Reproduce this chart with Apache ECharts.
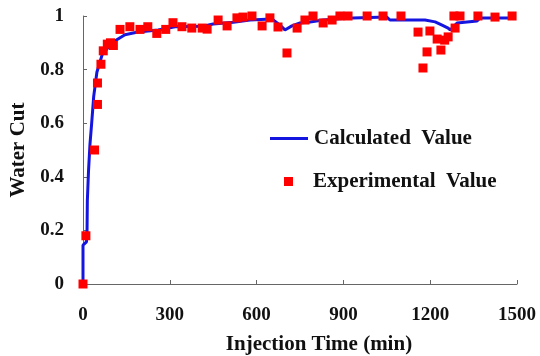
<!DOCTYPE html>
<html>
<head>
<meta charset="utf-8">
<script src="https://cdn.jsdelivr.net/npm/echarts@6/dist/echarts.min.js"></script>
<style>
  html, body { margin: 0; padding: 0; background: #fff; }
  #main { width: 540px; height: 356px; }
</style>
</head>
<body>
<div id="main"></div>
<script>
// calculated water cut curve (time in min, fraction)
var calcTime = [0, 0, 12, 14, 15, 19, 24, 30, 37, 48, 66, 100, 145, 190, 260, 318, 415, 450, 520, 577, 653, 681, 698, 722, 750, 785, 830, 933, 1050, 1061, 1182, 1217, 1241, 1262, 1269, 1293, 1362, 1372, 1483];
var calcValue = [0, 0.145, 0.157, 0.2, 0.31, 0.42, 0.52, 0.6, 0.7, 0.79, 0.855, 0.9, 0.93, 0.94, 0.948, 0.96, 0.962, 0.97, 0.977, 0.985, 0.989, 0.966, 0.948, 0.963, 0.974, 0.978, 0.985, 0.993, 0.996, 0.985, 0.985, 0.978, 0.966, 0.955, 0.948, 0.974, 0.981, 0.993, 0.993];

// experimental points
var expTime = [0, 10, 40, 50, 50, 62, 70, 84, 95, 105, 128, 162, 197, 224, 255, 286, 311, 342, 376, 412, 429, 467, 498, 532, 553, 584, 619, 646, 674, 705, 740, 767, 795, 830, 861, 888, 916, 982, 1037, 1099, 1158, 1175, 1189, 1199, 1224, 1237, 1250, 1262, 1282, 1286, 1303, 1365, 1424, 1483];
var expValue = [0, 0.18, 0.5, 0.67, 0.75, 0.82, 0.87, 0.895, 0.9, 0.89, 0.95, 0.96, 0.95, 0.96, 0.935, 0.95, 0.975, 0.96, 0.955, 0.955, 0.951, 0.985, 0.963, 0.993, 0.996, 1.0, 0.963, 0.993, 0.959, 0.862, 0.955, 0.985, 1.0, 0.974, 0.985, 1.0, 1.0, 1.0, 1.0, 1.0, 0.94, 0.806, 0.866, 0.944, 0.914, 0.873, 0.91, 0.922, 1.0, 0.955, 1.0, 1.0, 0.996, 1.0];

var font = 'Liberation Serif';
var blue = '#1515e0';
var red = '#ff0000';

function pairs(xs, ys) {
  var out = [];
  for (var i = 0; i < xs.length; i++) out.push([xs[i], ys[i]]);
  return out;
}

var chart = echarts.init(document.getElementById('main'));

var axisCommon = {
  axisLine: { show: true, lineStyle: { color: '#666', width: 1 } },
  axisTick: { show: true, inside: true, length: 4, lineStyle: { color: '#666' } },
  splitLine: { show: false },
  axisLabel: { color: '#111', fontFamily: font, fontWeight: 'bold', fontSize: 19 },
  nameTextStyle: { color: '#111', fontFamily: font, fontWeight: 'bold', fontSize: 21 }
};

var legendText = { color: '#111', fontFamily: font, fontWeight: 'bold', fontSize: 21 };

var option = {
  animation: false,
  backgroundColor: '#fff',
  grid: { left: 83, right: 23, top: 16, bottom: 72, containLabel: false, outerBoundsMode: 'none' },
  xAxis: Object.assign({}, axisCommon, {
    type: 'value', min: 0, max: 1500, interval: 300,
    name: 'Injection Time (min)', nameLocation: 'middle', nameGap: 50,
    nameTextStyle: Object.assign({}, axisCommon.nameTextStyle, { padding: [0, 0, 0, 38] }),
    axisLabel: Object.assign({}, axisCommon.axisLabel, {
      margin: 22,
      formatter: function (v) { return String(v); }
    })
  }),
  yAxis: Object.assign({}, axisCommon, {
    type: 'value', min: 0, max: 1, interval: 0.2,
    name: 'Water Cut', nameLocation: 'middle', nameGap: 46,
    axisLabel: Object.assign({}, axisCommon.axisLabel, { margin: 19 })
  }),
  legend: [
    {
      left: 265, top: 123,
      icon: 'rect', itemWidth: 38, itemHeight: 3,
      textStyle: Object.assign({ padding: [0, 0, 0, 1] }, legendText),
      data: ['Calculated  Value']
    },
    {
      left: 279, top: 166,
      icon: 'rect', itemWidth: 9, itemHeight: 9,
      textStyle: Object.assign({ padding: [0, 0, 0, 15] }, legendText),
      data: ['Experimental  Value']
    }
  ],
  series: [
    {
      name: 'Calculated  Value',
      type: 'line',
      data: pairs(calcTime, calcValue),
      symbol: 'none',
      lineStyle: { color: blue, width: 3 },
      itemStyle: { color: blue },
      z: 2
    },
    {
      name: 'Experimental  Value',
      type: 'scatter',
      data: pairs(expTime, expValue),
      symbol: 'rect',
      symbolSize: 9,
      itemStyle: { color: red, opacity: 1 },
      z: 3
    }
  ]
};

chart.setOption(option);
</script>
</body>
</html>
